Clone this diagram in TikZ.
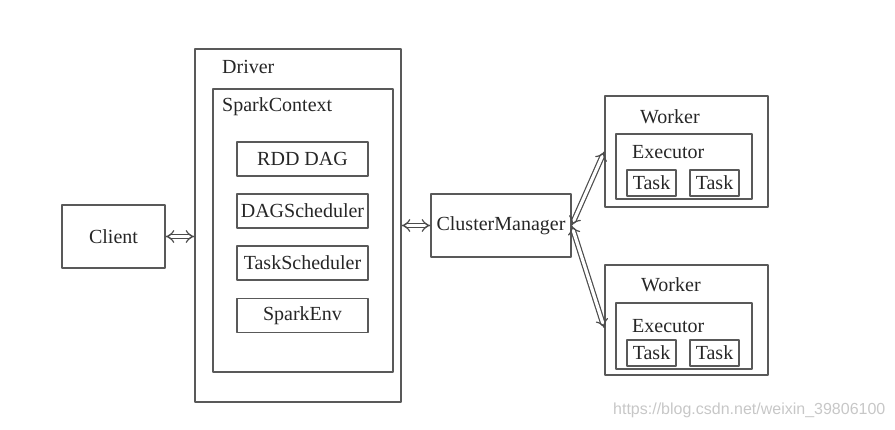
\documentclass[tikz,border=0pt]{standalone}
\usepackage{fontspec}
\setmainfont{Liberation Serif}
\newfontfamily\wmfont{Liberation Sans}
\usetikzlibrary{arrows.meta}

\tikzset{
    blocco/.style={draw=black!65, line width=1.3pt, inner sep=0pt},
    etichetta/.style={font=\fontsize{20}{22}\selectfont, text=black!85, inner sep=0pt},
    freccia/.style={double, double distance=3.2pt, line width=1.2pt, draw=black!70,
        {Implies}-{Implies}}
}

\begin{document}
\begin{tikzpicture}[
    x=1pt, y=-1pt,
    line cap=round,
    line join=round
]

\useasboundingbox (0,0) rectangle (895,429);

% Client
\node[blocco, minimum width=103pt, minimum height=63pt, etichetta] (client)
    at (113.5,236.5) {Client};

% Driver e SparkContext
\node[blocco, minimum width=206pt, minimum height=353pt] (driver) at (298,225.5) {};
\node[etichetta, anchor=west] (driverlbl) at (222,67) {Driver};
\node[blocco, minimum width=180pt, minimum height=283pt] (sc) at (303,230.5) {};
\node[etichetta, anchor=west] (sclbl) at (222,107) {SparkContext};

% Componenti interni
\node[blocco, minimum width=131pt, minimum height=34pt, etichetta] (rdd)
    at (302.5,159) {RDD DAG};
\node[blocco, minimum width=131pt, minimum height=34pt, etichetta] (dags)
    at (302.5,211) {DAGScheduler};
\node[blocco, minimum width=131pt, minimum height=34pt, etichetta] (tasks)
    at (302.5,263) {TaskScheduler};
\node[blocco, minimum width=131pt, minimum height=34pt, etichetta] (env)
    at (302.5,315.5) {SparkEnv};

% ClusterManager
\node[blocco, minimum width=140pt, minimum height=63pt, etichetta] (cm)
    at (501,225.5) {ClusterManager};

% Worker superiore
\node[blocco, minimum width=163pt, minimum height=111pt] (worker1) at (686.5,151.5) {};
\node[etichetta, anchor=west] (worker1lbl) at (640,117) {Worker};
\node[blocco, minimum width=136pt, minimum height=65pt] (exec1) at (684,166.5) {};
\node[etichetta, anchor=west] (exec1lbl) at (632,152) {Executor};
\node[blocco, minimum width=49pt, minimum height=26pt, etichetta] (task1a)
    at (651.5,183) {Task};
\node[blocco, minimum width=49pt, minimum height=26pt, etichetta] (task1b)
    at (714.5,183) {Task};

% Worker inferiore
\node[blocco, minimum width=163pt, minimum height=110pt] (worker2) at (686.5,320) {};
\node[etichetta, anchor=west] (worker2lbl) at (641,285) {Worker};
\node[blocco, minimum width=136pt, minimum height=66pt] (exec2) at (684,336) {};
\node[etichetta, anchor=west] (exec2lbl) at (632,326) {Executor};
\node[blocco, minimum width=49pt, minimum height=26pt, etichetta] (task2a)
    at (651.5,353) {Task};
\node[blocco, minimum width=49pt, minimum height=26pt, etichetta] (task2b)
    at (714.5,353) {Task};

% Frecce doppie
\draw[freccia] (client.east) -- (client.east -| driver.west);
\draw[freccia] (cm.west -| driver.east) -- (cm.west);
\draw[freccia] (cm.east) -- (worker1.west);
\draw[freccia] (cm.east) -- ([yshift=-8pt]worker2.west);

% Filigrana
\node[anchor=west, inner sep=0pt, text=black!22, font=\wmfont\fontsize{16}{18}\selectfont]
    (wm) at (613,410) {https://blog.csdn.net/weixin\_39806100};

\end{tikzpicture}
\end{document}
